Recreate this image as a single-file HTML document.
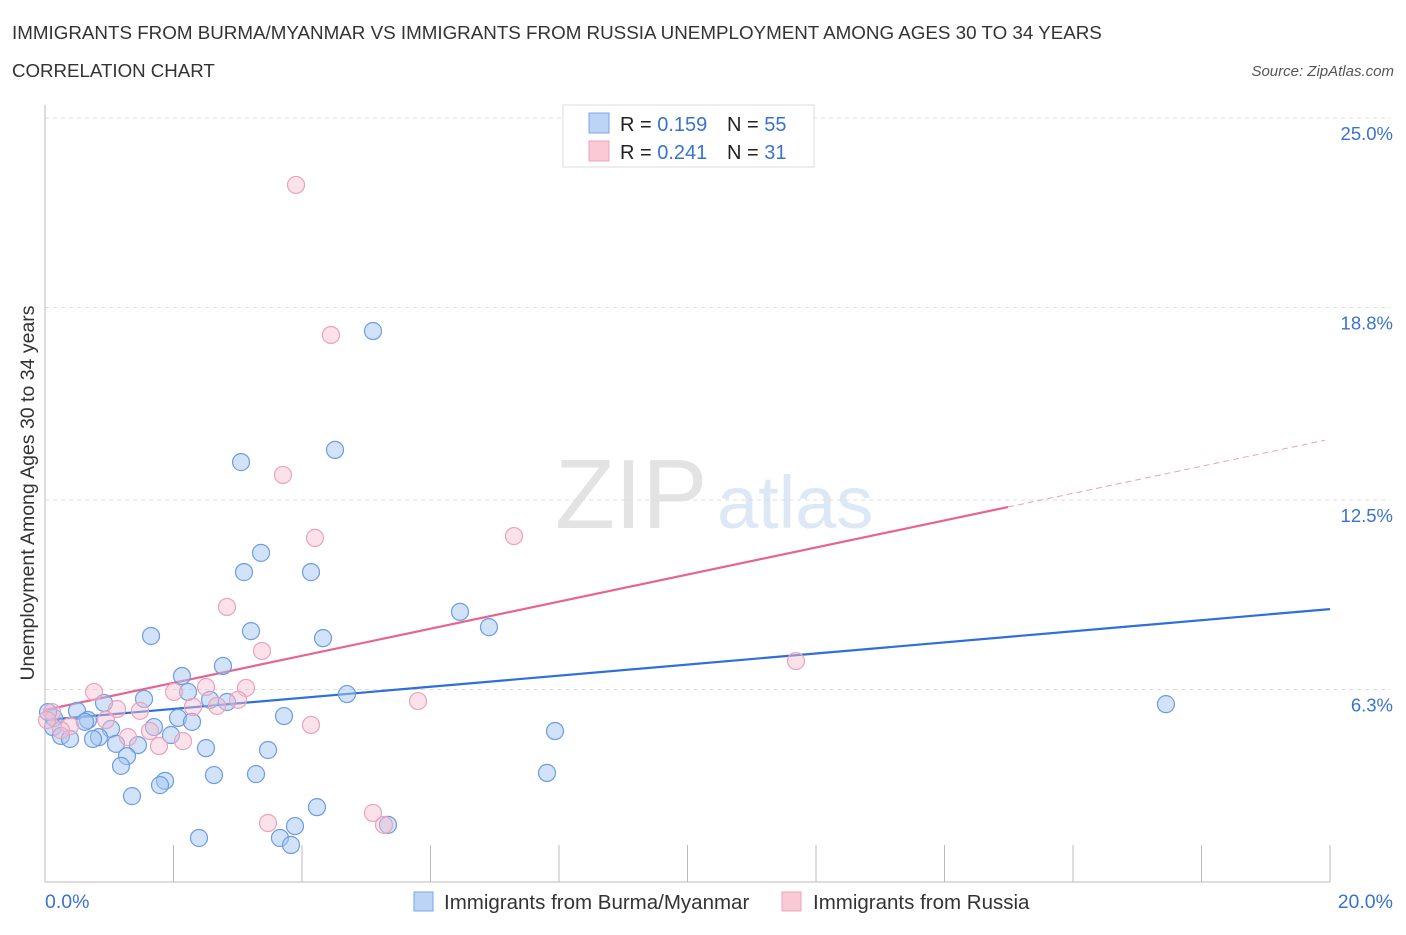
<!DOCTYPE html>
<html><head><meta charset="utf-8"><style>
body{margin:0;background:#fff;font-family:"Liberation Sans",sans-serif;}
svg text{font-family:"Liberation Sans",sans-serif;}
</style></head><body>
<svg id="chart" width="1406" height="930" viewBox="0 0 1406 930" xmlns="http://www.w3.org/2000/svg">
<text x="12" y="39" font-size="18.8" fill="#333">IMMIGRANTS FROM BURMA/MYANMAR VS IMMIGRANTS FROM RUSSIA UNEMPLOYMENT AMONG AGES 30 TO 34 YEARS</text>
<text x="12" y="77" font-size="18.7" fill="#333">CORRELATION CHART</text>
<text x="1394" y="76" font-size="15" fill="#555" text-anchor="end" font-style="italic">Source: ZipAtlas.com</text>
<g>
<text x="555" y="528" font-size="98" font-family="Liberation Serif,serif" fill="#e3e3e3">ZIP</text>
<text x="717" y="528" font-size="74" fill="#dce8f6">atlas</text>
</g>
<g id="grid"></g>
<g id="axes"></g>
<g id="trends"></g>
<g id="points"></g>
<text transform="translate(34,493) rotate(-90)" font-size="19.5" fill="#333" text-anchor="middle">Unemployment Among Ages 30 to 34 years</text>
<text x="45" y="908" font-size="19.5" fill="#3a72d0">0.0%</text>
<text x="1393" y="908" font-size="19.5" fill="#3a72d0" text-anchor="end">20.0%</text>
<g>
<rect x="563" y="105" width="251" height="62" fill="#fff" stroke="#ddd"/>
<rect x="589" y="113" width="20" height="20" fill="#bcd4f6" stroke="#7aa6e6"/>
<rect x="589" y="141" width="20" height="20" fill="#f9c9d6" stroke="#eda4ba"/>
<text x="620" y="131" font-size="20" fill="#222">R = <tspan fill="#3a72d0">0.159</tspan></text>
<text x="727" y="131" font-size="20" fill="#222">N = <tspan fill="#3a72d0">55</tspan></text>
<text x="620" y="159" font-size="20" fill="#222">R = <tspan fill="#3a72d0">0.241</tspan></text>
<text x="727" y="159" font-size="20" fill="#222">N = <tspan fill="#3a72d0"> 31</tspan></text>
</g>
<g>
<rect x="414" y="892" width="19" height="19" fill="#bcd4f6" stroke="#7aa6e6"/>
<text x="444" y="909" font-size="20.5" fill="#333">Immigrants from Burma/Myanmar</text>
<rect x="782" y="892" width="19" height="19" fill="#f9c9d6" stroke="#eda4ba"/>
<text x="813" y="909" font-size="20.5" fill="#333">Immigrants from Russia</text>
</g>
</svg>
<script>
const yTicks=[25.0,18.8,12.5,6.3];
const yTickLabels=["25.0%","18.8%","12.5%","6.3%"];
const xTicks=[0,2,4,6,8,10,12,14,16,18,20];
const burmaX=[5.105,4.514,3.051,3.362,3.097,4.140,1.650,3.206,4.327,6.459,6.910,2.132,2.770,2.226,1.541,2.568,2.833,0.918,4.700,17.447,2.070,2.288,3.720,0.498,0.140,1.696,0.669,0.623,1.027,0.125,1.961,0.840,0.249,0.389,0.747,1.105,1.447,2.506,7.938,3.471,1.276,1.183,2.630,3.284,7.813,1.868,1.790,1.354,4.233,3.891,5.338,2.397,3.657,3.829,0.047];
const burmaY=[18.03,14.14,13.74,10.77,10.14,10.14,8.05,8.21,7.98,8.84,8.34,6.74,7.07,6.22,5.99,5.96,5.89,5.86,6.15,5.82,5.37,5.24,5.43,5.60,5.37,5.07,5.30,5.24,5.01,5.07,4.81,4.74,4.78,4.68,4.68,4.52,4.48,4.38,4.94,4.32,4.12,3.80,3.50,3.53,3.57,3.31,3.17,2.81,2.45,1.83,1.87,1.44,1.44,1.21,5.56];
const russiaX=[3.907,4.451,3.704,4.202,7.299,2.833,3.377,11.688,0.763,2.008,2.506,3.128,3.004,5.805,2.303,2.677,1.121,1.479,0.949,0.109,0.031,0.389,1.634,0.249,1.292,2.148,1.774,4.140,3.471,5.105,5.276];
const russiaY=[22.81,17.90,13.32,11.26,11.32,9.00,7.56,7.23,6.22,6.22,6.38,6.35,5.96,5.92,5.73,5.76,5.66,5.60,5.30,5.56,5.30,5.10,4.94,4.97,4.74,4.61,4.45,5.14,1.93,2.26,1.87];
const burmaTrend=[5.30,8.93];
const russiaTrend=[5.63,14.49];
const russiaSolidEnd=12.27;
const NS="http://www.w3.org/2000/svg";
const X0=45,X1=1330,Y0=882,PXPER=30.56;
function sx(v){return X0+(v/20)*(X1-X0);}
function sy(v){return Y0-v*PXPER;}
function mk(tag,attrs,parent){const e=document.createElementNS(NS,tag);for(const k in attrs)e.setAttribute(k,attrs[k]);parent.appendChild(e);return e;}
const grid=document.getElementById('grid');
yTicks.forEach((t,i)=>{
 const l=mk('line',{x1:X0,x2:1390,y1:sy(t),y2:sy(t),stroke:'#ddd','stroke-dasharray':'4,4'},grid);
 
 
 const tx=mk('text',{x:1393,y:sy(t)+22,'font-size':18.5,fill:'#3a72d0','text-anchor':'end'},grid);
 tx.textContent=yTickLabels[i];
 
 
});
const axes=document.getElementById('axes');
const ya=mk('line',{x1:X0,x2:X0,y1:105,y2:Y0,stroke:'#bbb'},axes);


const xa=mk('line',{x1:X0,x2:X1,y1:Y0,y2:Y0,stroke:'#bbb'},axes);


xTicks.forEach(t=>{
 const l=mk('line',{x1:sx(t),x2:sx(t),y1:845,y2:Y0,stroke:'#bbb'},axes);
 
 
});
const tr=document.getElementById('trends');
const bt=mk('line',{x1:sx(0),y1:sy(burmaTrend[0]),x2:sx(20),y2:sy(burmaTrend[1]),stroke:'#2e6fd8','stroke-width':2.2},tr);


const xs=(russiaSolidEnd-russiaTrend[0])/(russiaTrend[1]-russiaTrend[0])*20;
const rt=mk('line',{x1:sx(0),y1:sy(russiaTrend[0]),x2:sx(xs),y2:sy(russiaSolidEnd),stroke:'#e8648e','stroke-width':2.2},tr);


const rd=mk('line',{x1:sx(xs),y1:sy(russiaSolidEnd),x2:sx(19.92),y2:sy(russiaTrend[0]+(russiaTrend[1]-russiaTrend[0])*19.92/20),stroke:'#eba0b8','stroke-width':1,'stroke-dasharray':'6,4'},tr);


const pts=document.getElementById('points');
burmaX.forEach((x,i)=>{
 const c=mk('circle',{cx:sx(x),cy:sy(burmaY[i]),r:8.5,fill:'rgba(165,198,242,0.5)',stroke:'#6b9de3','stroke-width':1.2},pts);
 
 
});
russiaX.forEach((x,i)=>{
 const c=mk('circle',{cx:sx(x),cy:sy(russiaY[i]),r:8.5,fill:'rgba(247,190,208,0.45)',stroke:'#eca2ba','stroke-width':1.2},pts);
 
 
});
</script>
</body></html>
